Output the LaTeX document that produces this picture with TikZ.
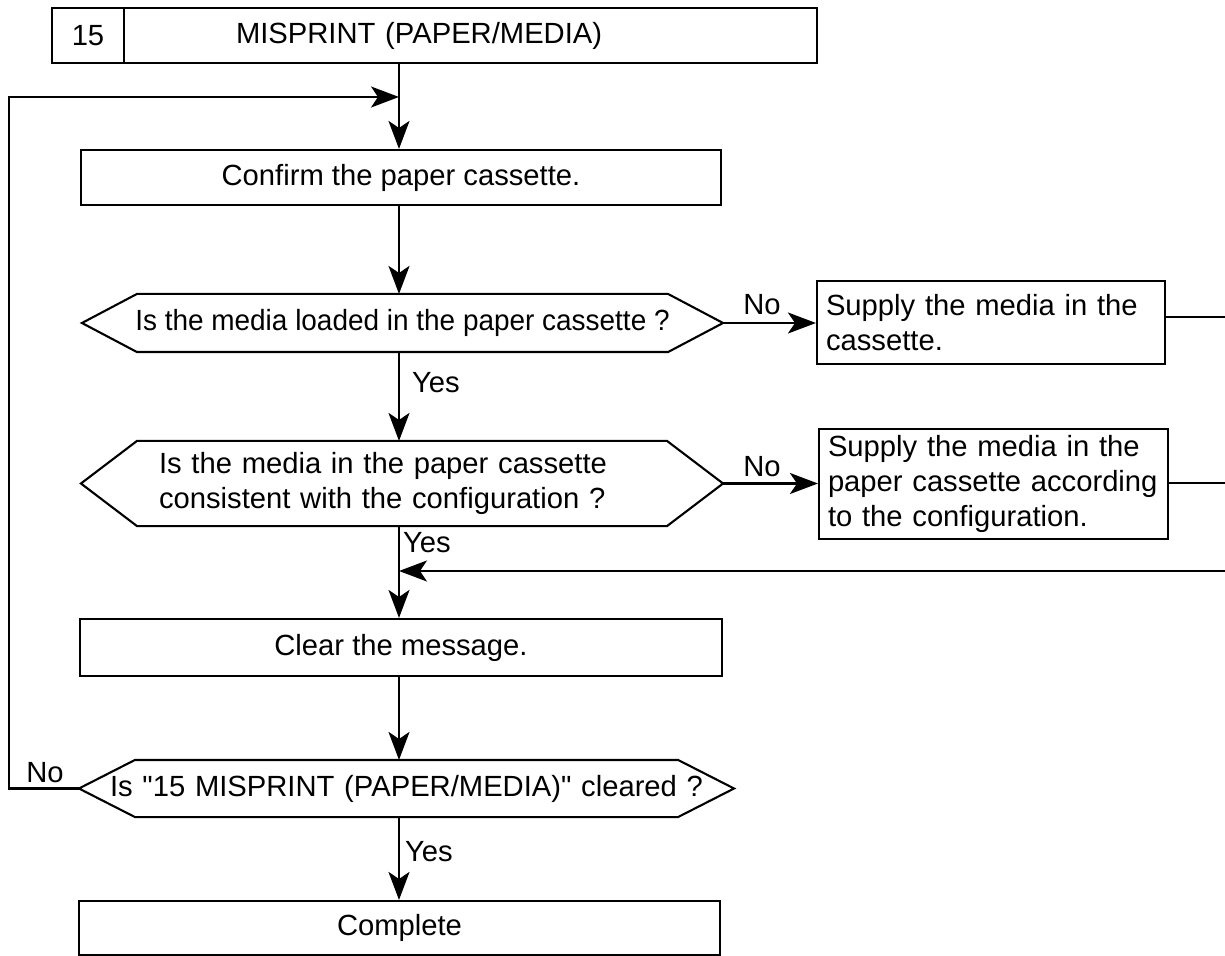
\documentclass[tikz,border=0pt]{standalone}
\usepackage{graphicx}
\usepackage{fontspec}
\setmainfont{Liberation Sans}[Ligatures=TeXOff]
\usetikzlibrary{arrows.meta,calc}
\newcommand\hexo[2]{\draw (#1.west) -- ($(#1.north west)+(#2,0)$) -- ($(#1.north east)+(-#2,0)$) -- (#1.east) -- ($(#1.south east)+(-#2,0)$) -- ($(#1.south west)+(#2,0)$) -- cycle;}
\begin{document}
\begin{tikzpicture}[x=0.5pt,y=-0.5pt, line width=1.05pt,
  every node/.style={font=\fontsize{14.6}{17.6}\selectfont, inner sep=0pt},
  box/.style={draw, rectangle},
  hex/.style={rectangle},
  arr/.style={-{Stealth[length=14pt,width=10.5pt,inset=3.5pt]}},
  lbl/.style={anchor=west}]
\useasboundingbox (0,0) rectangle (1225,956);

% title
\node[box, minimum width=36pt, minimum height=27.5pt] (t15) at (88,35.5) {15};
\node[box, minimum width=346.5pt, minimum height=27.5pt, text width=234.5pt, align=left] (tmain) at (470.5,35.5) {MISPRINT (PAPER/MEDIA)};

% main column
\node[box, minimum width=320pt, minimum height=27.5pt] (c1) at (401,177.5) {Confirm the paper cassette.};
\node[hex, minimum width=319.5pt, minimum height=28pt] (d1) at (402.5,323) {\scalebox{0.957}[1]{Is the media loaded in the paper cassette ?}};
\hexo{d1}{55}
\node[box, minimum width=174pt, minimum height=41.5pt, text width=165pt, align=left] (b1) at (991,322.5) {Supply the media in the\\cassette.};
\node[hex, minimum width=320pt, minimum height=41.5pt, text width=243pt, align=left] (d2) at (402,483.5) {Is the media in the paper cassette\\consistent with the configuration ?};
\hexo{d2}{56}
\node[box, minimum width=174.5pt, minimum height=55pt, text width=165.5pt, align=left] (b2) at (993.5,484) {Supply the media in the\\paper cassette according\\to the configuration.};
\node[box, minimum width=321pt, minimum height=28.5pt] (c2) at (401,647.5) {Clear the message.};
\node[hex, minimum width=326.5pt, minimum height=27.5pt, text width=296.5pt, align=left] (d3) at (406.5,788.5) {Is "15 MISPRINT (PAPER/MEDIA)" cleared ?};
\hexo{d3}{56}
\node[box, minimum width=320.5pt, minimum height=27pt] (c3) at (399.5,928) {Complete};

% helper coordinates
\coordinate (sp) at (399,0);
\coordinate (fb) at (9,97);
\coordinate (r1) at (1225,317);
\coordinate (r2) at (1225,483);
\coordinate (r3) at (1225,571);

% connectors
\draw[arr] (tmain.south -| sp) -- (c1.north -| sp);
\draw[arr] (d3.west) -| (fb) -- (fb -| sp);
\draw[arr] (c1.south -| sp) -- (d1.north -| sp);
\draw[arr] (d1.south -| sp) -- (d2.north -| sp);
\draw[arr] (d1.east) -- (b1.west |- d1.east);
\draw (b1.east |- r1) -- (r1);
\draw[arr] (d2.east) -- (b2.west |- d2.east);
\draw (b2.east |- r2) -- (r2);
\draw[arr] (r3) -- (r3 -| sp);
\draw[arr] (d2.south -| sp) -- (c2.north -| sp);
\draw[arr] (c2.south -| sp) -- (d3.north -| sp);
\draw[arr] (d3.south -| sp) -- (c3.north -| sp);

% labels
\node[lbl] (y1) at (411,383) {Yes};
\node[lbl] (y2) at (402,543) {Yes};
\node[lbl] (y3) at (404,852) {Yes};
\node (n1) at (762,305) {No};
\node (n2) at (762,467) {No};
\node (n3) at (45,773) {No};
\end{tikzpicture}
\end{document}
